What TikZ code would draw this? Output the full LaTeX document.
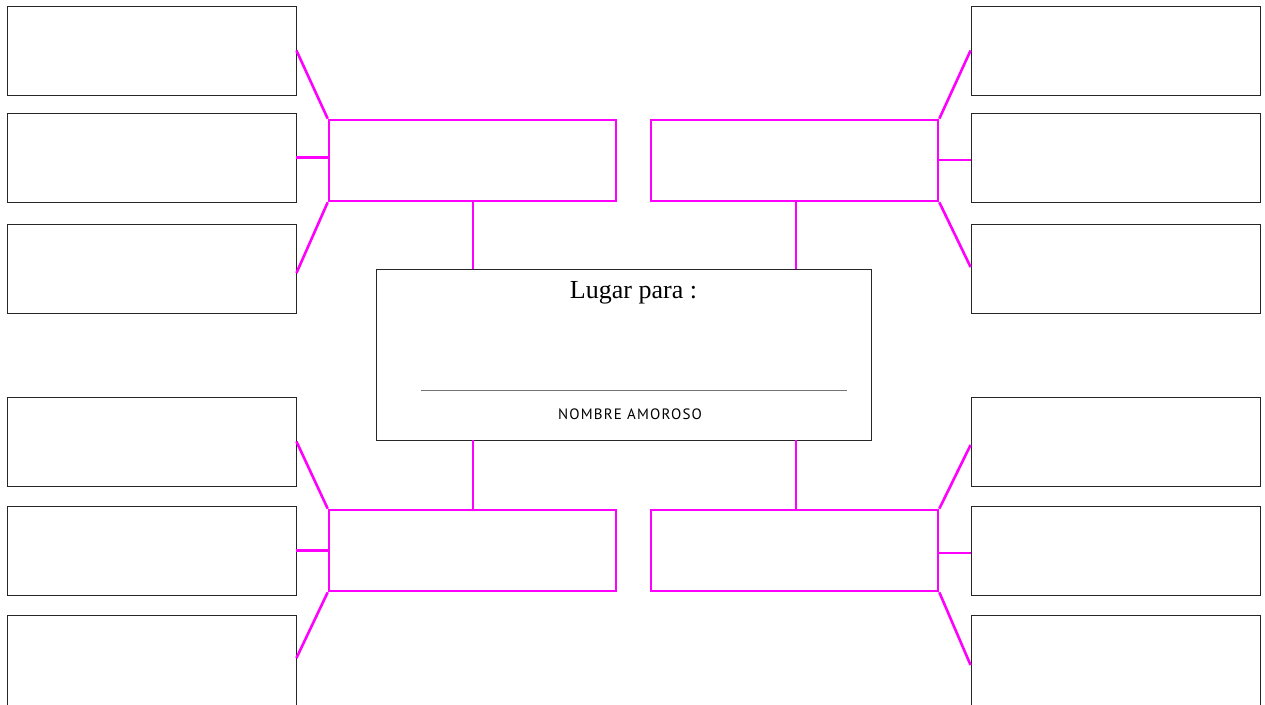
\documentclass[tikz,border=0pt]{standalone}
\usepackage{fontspec}
\setmainfont{Liberation Serif}
\newfontfamily\ptsans[LetterSpace=8]{PT Sans}
\definecolor{mag}{RGB}{255,0,255}
\tikzset{
  leaf/.style={draw=black!85, line width=0.9pt, minimum width=289pt, minimum height=89pt, inner sep=0pt},
  hub/.style={draw=mag, line width=2.6pt, minimum width=287pt, minimum height=81pt, inner sep=0pt},
  link/.style={draw=mag, line width=2.6pt},
}
\begin{document}
\begin{tikzpicture}[x=1pt,y=-1pt]
\useasboundingbox (0,0) rectangle (1265,704);
% left leaves
\node[leaf] (l1) at (151.5,50.5) {};
\node[leaf] (l2) at (151.5,157.5) {};
\node[leaf] (l3) at (151.5,268.5) {};
\node[leaf] (l4) at (151.5,441.5) {};
\node[leaf] (l5) at (151.5,550.5) {};
\node[leaf, minimum height=97pt] (l6) at (151.5,663.5) {};
% right leaves
\node[leaf] (r1) at (1115.5,50.5) {};
\node[leaf] (r2) at (1115.5,157.5) {};
\node[leaf] (r3) at (1115.5,268.5) {};
\node[leaf] (r4) at (1115.5,441.5) {};
\node[leaf] (r5) at (1115.5,550.5) {};
\node[leaf, minimum height=97pt] (r6) at (1115.5,663.5) {};
% hubs
\node[hub] (h1) at (472.5,160.5) {};
\node[hub] (h2) at (794.5,160.5) {};
\node[hub] (h3) at (472.5,550.5) {};
\node[hub] (h4) at (794.5,550.5) {};
% center
\node[draw=black!85, line width=0.9pt, minimum width=495pt, minimum height=171pt, inner sep=0pt] (c) at (623.5,354.5) {};
\node[anchor=base, inner sep=0pt, font=\fontsize{26}{29}\selectfont] (t1) at (633.5,298) {Lugar para :};
\coordinate (la) at (421,390);
\coordinate (lb) at (847,390);
\draw[black!55, line width=1pt] (la) -- (lb);
\node[anchor=base, inner sep=0pt, font=\ptsans\fontsize{15}{17}\selectfont] (t2) at (630,419.5) {NOMBRE AMOROSO};
% hub to center
\draw[link] (h1.south -| 473,0) -- (c.north -| 473,0);
\draw[link] (h2.south -| 796,0) -- (c.north -| 796,0);
\draw[link] (h3.north -| 473,0) -- (c.south -| 473,0);
\draw[link] (h4.north -| 796,0) -- (c.south -| 796,0);
% left fans
\draw[link] (h1.north west) -- (l1.east);
\draw[link] (h1.west |- l2.east) -- (l2.east);
\draw[link] (h1.south west) -- (l3.east |- 0,273);
\draw[link] (h3.north west) -- (l4.east);
\draw[link] (h3.west) -- (l5.east);
\draw[link] (h3.south west) -- (l6.east |- 0,658);
% right fans
\draw[link] (h2.north east) -- (r1.west);
\draw[link] (h2.east |- 0,160) -- (r2.west |- 0,160);
\draw[link] (h2.south east) -- (r3.west |- 0,267);
\draw[link] (h4.north east) -- (r4.west |- 0,445);
\draw[link] (h4.east |- 0,553) -- (r5.west |- 0,553);
\draw[link] (h4.south east) -- (r6.west |- 0,665);
\end{tikzpicture}
\end{document}
